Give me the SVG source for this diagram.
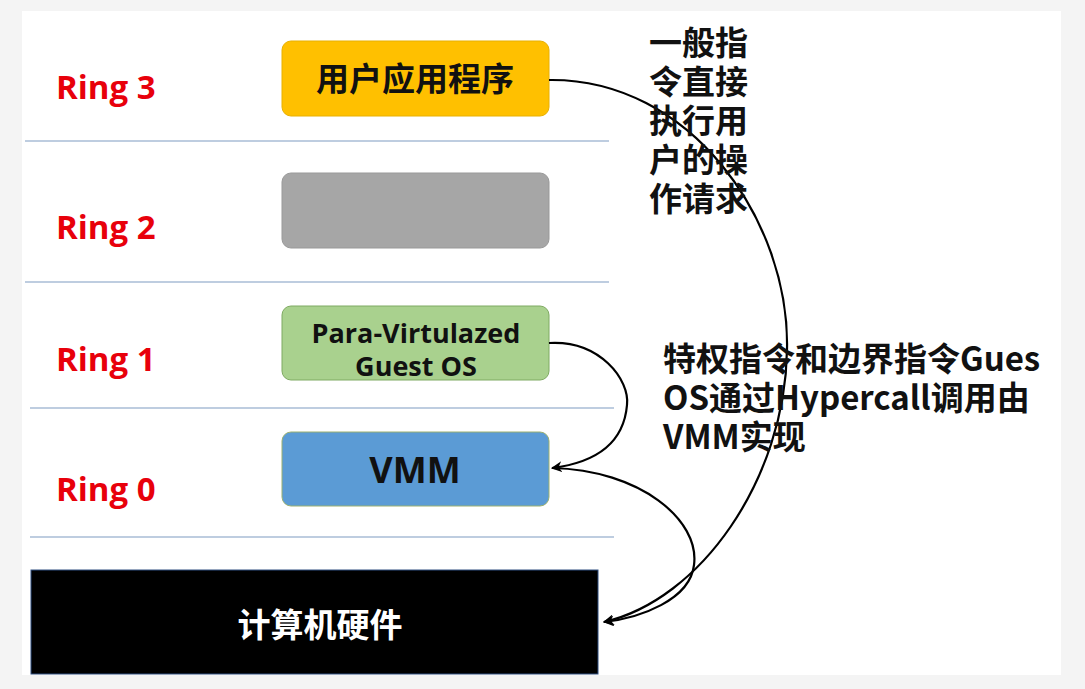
<svg xmlns="http://www.w3.org/2000/svg" width="1085" height="689" viewBox="0 0 1085 689">
<defs>
<style>
.ring{font-family:"Open Sans","Noto Sans","Liberation Sans",sans-serif;font-weight:bold;font-size:33px;fill:#e8000b}
.box{stroke-width:1}
.t{font-family:"Noto Sans CJK SC","Open Sans","Liberation Sans",sans-serif;font-weight:bold;fill:#111}
.lat{font-family:"Open Sans","Noto Sans","Liberation Sans",sans-serif;font-weight:bold;fill:#111}
.sep{stroke:#a8bcd6;stroke-width:1.5}
.conn{fill:none;stroke:#000;stroke-width:2.2}
</style>
<marker id="ah" viewBox="0 0 10 10" refX="9" refY="5" markerWidth="5" markerHeight="5" orient="auto" markerUnits="strokeWidth">
<path d="M0,0 L10,5 L0,10 L3,5 z" fill="#000"/>
</marker>
</defs>
<rect x="0" y="0" width="1085" height="689" fill="#f4f4f4"/>
<rect x="22" y="11" width="1039" height="664" fill="#ffffff"/>
<g id="separators">
<line class="sep" x1="25" y1="141" x2="609" y2="141"/>
<line class="sep" x1="25" y1="282" x2="609" y2="282"/>
<line class="sep" x1="30" y1="408" x2="614" y2="408"/>
<line class="sep" x1="30" y1="537" x2="614" y2="537"/>
</g>
<g id="ring-labels">
<text class="ring" x="56" y="99">Ring 3</text>
<text class="ring" x="56" y="239">Ring 2</text>
<text class="ring" x="56" y="371">Ring 1</text>
<text class="ring" x="56" y="501">Ring 0</text>
</g>
<g id="user-app">
<rect class="box" x="282" y="41" width="267" height="75" rx="9" fill="#ffc000" stroke="#e8b000"/>
<text class="t" x="415" y="91" font-size="33" text-anchor="middle">用户应用程序</text>
</g>
<g id="ring2-box">
<rect class="box" x="282" y="173" width="267" height="75" rx="9" fill="#a6a6a6" stroke="#999"/>
</g>
<g id="guest-os">
<rect class="box" x="282" y="306" width="267" height="74" rx="9" fill="#a9d18e" stroke="#7faa62"/>
<text class="lat" x="416" y="343" font-size="27" text-anchor="middle">Para-Virtulazed</text>
<text class="lat" x="416" y="376" font-size="27" text-anchor="middle">Guest OS</text>
</g>
<g id="vmm">
<rect class="box" x="282" y="432" width="267" height="74" rx="9" fill="#5b9bd5" stroke="#9bb070"/>
<text class="lat" x="415" y="483" font-size="36" text-anchor="middle">VMM</text>
</g>
<g id="hardware">
<rect x="31" y="570" width="567" height="104" fill="#000" stroke="#2f4f80" stroke-width="1"/>
<text class="t" x="320" y="637" font-size="33" text-anchor="middle" style="fill:#fff">计算机硬件</text>
</g>
<g id="connectors">
<path class="conn" d="M549,80 C690,78 790,220 787,350 C785,480 700,600 604,622" marker-end="url(#ah)"/>
<path class="conn" d="M549,343 C600,340 630,380 627,405 C624,440 600,462 552,468" marker-end="url(#ah)"/>
<path class="conn" d="M552,468 C640,470 700,520 694,565 C690,600 640,618 604,622" marker-end="url(#ah)"/>
</g>
<g id="labels">
<text class="t" font-size="33" x="649" y="55">一般指</text>
<text class="t" font-size="33" x="649" y="94">令直接</text>
<text class="t" font-size="33" x="649" y="133">执行用</text>
<text class="t" font-size="33" x="649" y="172">户的操</text>
<text class="t" font-size="33" x="649" y="211">作请求</text>
<text class="t" font-size="33" x="663" y="371">特权指令和边界指令Gues</text>
<text class="t" font-size="33" x="663" y="410">OS通过Hypercall调用由</text>
<text class="t" font-size="33" x="663" y="449">VMM实现</text>
</g>
</svg>
